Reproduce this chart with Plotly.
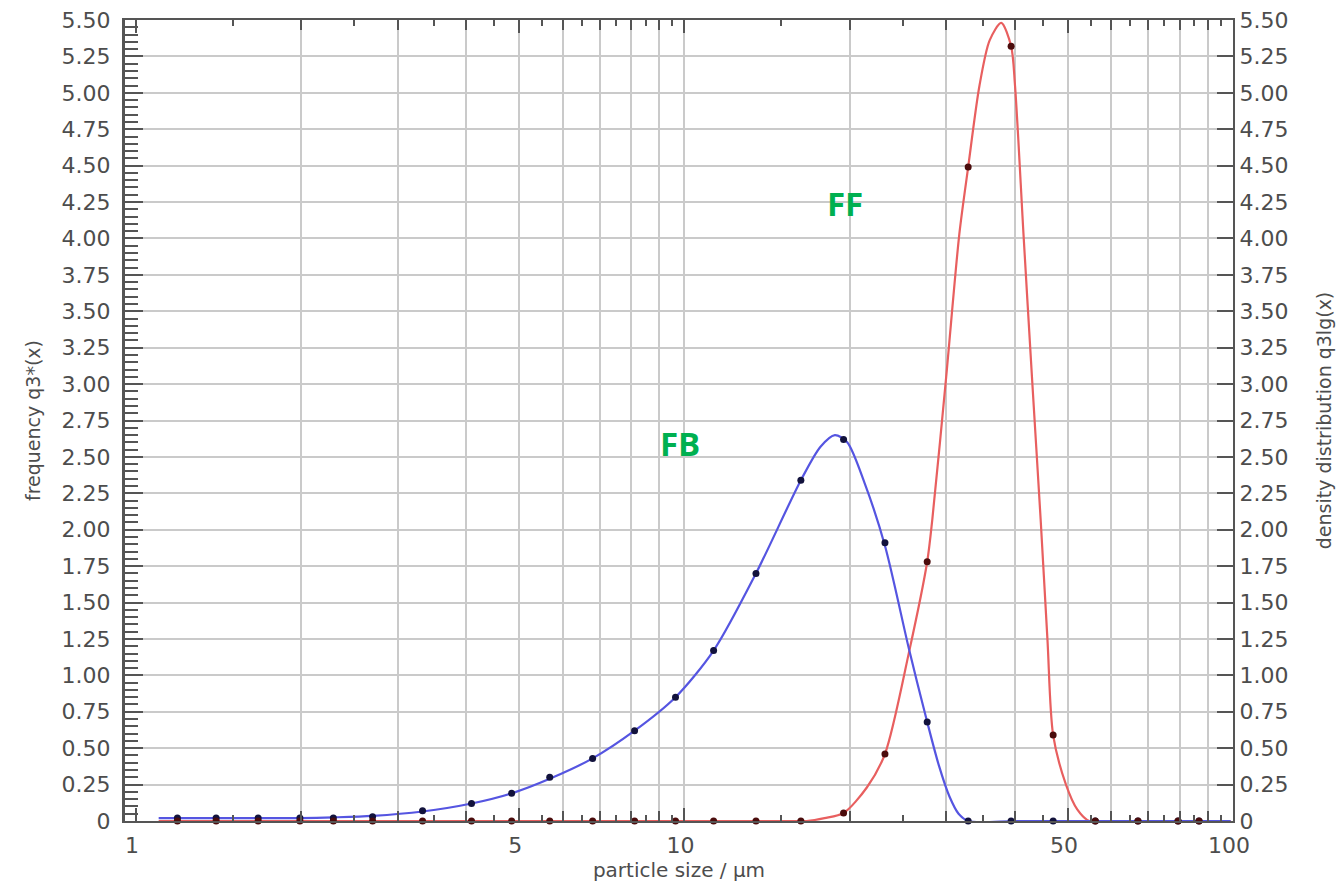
import numpy as np
import plotly.graph_objects as go

# ---------------- data ----------------
size_um = [1.19, 1.40, 1.67, 1.99, 2.29, 2.70, 3.33, 4.09, 4.84, 5.68, 6.80, 8.11, 9.63,
           11.3, 13.5, 16.3, 19.5, 23.2, 27.7, 32.9, 39.4, 47.0, 56.1, 67.1, 79.4, 86.7]
fb_q3 = [0.02, 0.02, 0.02, 0.02, 0.02, 0.03, 0.07, 0.12, 0.19, 0.30, 0.43, 0.62, 0.85,
         1.17, 1.70, 2.34, 2.62, 1.91, 0.68, 0.0, 0.0, 0.0, 0.0, 0.0, 0.0, 0.0]
ff_q3 = [0.0, 0.0, 0.0, 0.0, 0.0, 0.0, 0.0, 0.0, 0.0, 0.0, 0.0, 0.0, 0.0,
         0.0, 0.0, 0.0, 0.055, 0.46, 1.78, 4.49, 5.32, 0.59, 0.0, 0.0, 0.0, 0.0]

fb_fit_x = [1.10, 1.19, 1.40, 1.67, 1.99, 2.29, 2.70, 3.33, 4.09, 4.84, 5.68, 6.80, 8.11,
            9.63, 11.3, 13.5, 16.3, 17.7, 18.8, 19.8, 21.3, 23.2, 25.7, 27.7, 29.1, 30.4,
            31.6, 32.9, 40.0, 50.0, 60.0, 70.0, 80.0, 90.0, 99.0]
fb_fit_y = [0.02, 0.02, 0.02, 0.02, 0.02, 0.025, 0.035, 0.065, 0.12, 0.19, 0.29, 0.43, 0.62,
            0.85, 1.17, 1.70, 2.34, 2.57, 2.65, 2.60, 2.32, 1.89, 1.17, 0.68, 0.38, 0.17,
            0.05, 0.0, 0.0, 0.0, 0.0, 0.0, 0.0, 0.0, 0.0]

ff_fit_x = [1.10, 2.0, 5.0, 10.0, 15.0, 16.7, 18.0, 19.5, 21.5, 23.2, 25.7, 27.7, 28.3,
            30.0, 31.7, 32.9, 34.5, 36.0, 37.8, 39.4, 40.05, 41.5, 43.0, 44.6, 45.9, 47.0,
            49.6, 52.0, 54.7, 60.0, 70.0, 80.0, 90.0, 99.0]
ff_fit_y = [0.0, 0.0, 0.0, 0.0, 0.0, 0.0, 0.02, 0.055, 0.23, 0.46, 1.17, 1.78, 2.07,
            3.05, 4.03, 4.49, 5.05, 5.36, 5.48, 5.32, 5.05, 4.03, 3.05, 2.07, 1.24, 0.59,
            0.25, 0.08, 0.0, 0.0, 0.0, 0.0, 0.0, 0.0]

y_tickvals = [0, 0.25, 0.5, 0.75, 1.0, 1.25, 1.5, 1.75, 2.0, 2.25, 2.5, 2.75, 3.0, 3.25,
              3.5, 3.75, 4.0, 4.25, 4.5, 4.75, 5.0, 5.25, 5.5]
y_ticktext = ["0", "0.25", "0.50", "0.75", "1.00", "1.25", "1.50", "1.75", "2.00", "2.25",
              "2.50", "2.75", "3.00", "3.25", "3.50", "3.75", "4.00", "4.25", "4.50", "4.75",
              "5.00", "5.25", "5.50"]
x_label_vals = [1, 5, 10, 50, 100]
x_label_text = ["1", "5", "10", "50", "100"]
x_grid_vals = [2, 3, 4, 5, 6, 7, 8, 9, 10, 20, 30, 40, 50, 60, 70, 80, 90]
x_half_vals = [1.5, 2.5, 3.5, 4.5, 5.5, 6.5, 7.5, 8.5, 9.5, 15, 25, 35, 45, 55, 65, 75, 85, 95]

labels = ["FB", "FF"]
label_x = [9.83, 19.65]
label_y = [2.59, 4.24]

# ---------------- styling ----------------
AX = "#555555"
GRID = "#cacaca"
TXT = "#4d4d4d"
FONT = "DejaVu Sans"
XR = [-0.02, 2.0]
YR = [0, 5.5]

fig = go.Figure()
fig.add_trace(go.Scatter(x=ff_fit_x, y=ff_fit_y, mode="lines",
                         line=dict(color="rgb(232,95,95)", width=2.2, shape="spline", smoothing=0.8),
                         hoverinfo="skip", showlegend=False))
fig.add_trace(go.Scatter(x=fb_fit_x, y=fb_fit_y, mode="lines",
                         line=dict(color="rgb(85,85,225)", width=2.2, shape="spline", smoothing=0.8),
                         hoverinfo="skip", showlegend=False))
fig.add_trace(go.Scatter(x=size_um, y=ff_q3, mode="markers", xaxis="x2", yaxis="y",
                         marker=dict(color="rgb(75,12,12)", size=7), cliponaxis=False,
                         showlegend=False))
fig.add_trace(go.Scatter(x=size_um, y=fb_q3, mode="markers", xaxis="x", yaxis="y2",
                         marker=dict(color="rgb(18,18,60)", size=7), cliponaxis=False,
                         showlegend=False))

for t, xv, yv in zip(labels, label_x, label_y):
    fig.add_annotation(x=np.log10(xv), y=yv, text=t, showarrow=False, xref="x", yref="y",
                       font=dict(family="Open Sans", size=33, color="#00b050", weight="bold"))

tickfont = dict(family=FONT, size=22, color=TXT)
titlefont = dict(family=FONT, size=19, color=TXT)

fig.update_layout(
    width=1344, height=883,
    margin=dict(l=125, r=111, t=20, b=62),
    paper_bgcolor="white", plot_bgcolor="white",
    showlegend=False,
    xaxis=dict(type="log", range=XR, tickmode="array", tickvals=x_label_vals,
               ticktext=x_label_text, ticks="inside", ticklen=13, tickwidth=2, tickcolor=AX,
               showline=True, linecolor=AX, linewidth=2, mirror="ticks", automargin=False,
               showgrid=False, zeroline=False, tickfont=tickfont,
               ticklabelshift=-4, ticklabelstandoff=4,
               minor=dict(tickmode="array", tickvals=x_grid_vals, ticks="inside", ticklen=10,
                          tickwidth=2, tickcolor=AX, showgrid=True, gridcolor=GRID, gridwidth=2),
               title=dict(text="particle size / µm", font=dict(family=FONT, size=20, color=TXT),
                          standoff=4)),
    xaxis2=dict(type="log", range=XR, overlaying="x", anchor="y", side="bottom",
                tickmode="array", tickvals=x_half_vals, ticks="inside", ticklen=6, tickwidth=2,
                tickcolor=AX, showticklabels=False, showgrid=False, showline=False,
                zeroline=False, mirror="ticks", automargin=False),
    yaxis=dict(range=YR, tickmode="array", tickvals=y_tickvals, ticktext=y_ticktext,
               ticks="inside", ticklen=18, tickwidth=2, tickcolor=AX, automargin=False,
               showline=True, linecolor=AX, linewidth=3, showgrid=True, gridcolor=GRID,
               gridwidth=2, zeroline=False, tickfont=tickfont, ticklabelstandoff=7,
               minor=dict(dtick=0.05, ticks="inside", ticklen=13, tickwidth=2, tickcolor=AX,
                          showgrid=False),
               title=dict(text="frequency q3*(x)", font=titlefont, standoff=16)),
    yaxis2=dict(range=YR, overlaying="y", anchor="x", side="right", tickmode="array",
                tickvals=y_tickvals, ticktext=y_ticktext, ticks="inside", ticklen=16,
                tickwidth=2, tickcolor=AX, showline=True, linecolor=AX, linewidth=2,
                showgrid=False, zeroline=False, tickfont=tickfont, automargin=False,
                title=dict(text="density distribution q3lg(x)", font=titlefont, standoff=30)),
)

fig.write_html("out.html")
